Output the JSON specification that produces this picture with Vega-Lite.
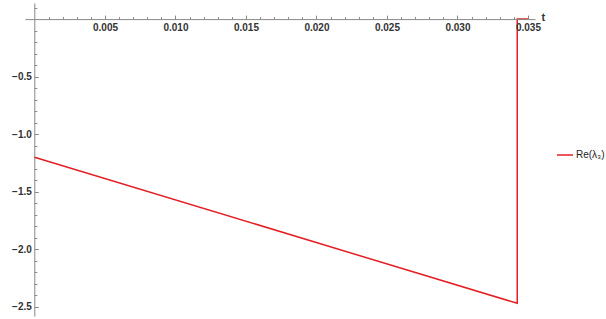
{
  "$schema": "https://vega.github.io/schema/vega-lite/v6.json",
  "width": 510,
  "height": 313,
  "autosize": {"type": "none"},
  "padding": {"left": 25, "top": 3, "right": 71, "bottom": 3},
  "background": "white",
  "config": {
    "view": {"stroke": null},
    "axis": {"labelFont": "Liberation Sans", "labelFontSize": 10, "labelFontWeight": "bold", "labelColor": "#333", "domainColor": "#888", "tickColor": "#888", "grid": false}
  },
  "data": {
    "values": [
      {"t": 0, "v": -1.2, "s": "Re(λ₃)"},
      {"t": 0.03424, "v": -2.47, "s": "Re(λ₃)"},
      {"t": 0.03424, "v": 0, "s": "Re(λ₃)"},
      {"t": 0.035, "v": 0, "s": "Re(λ₃)"}
    ]
  },
  "mark": {"type": "line", "strokeWidth": 1.5, "clip": true},
  "encoding": {
    "x": {
      "field": "t", "type": "quantitative",
      "scale": {"domain": [-0.000674, 0.0355], "nice": false, "zero": false},
      "axis": {
        "orient": "bottom", "offset": -296.9, "zindex": 1,
        "values": [0.001,0.002,0.003,0.004,0.005,0.006,0.007,0.008,0.009,0.010,0.011,0.012,0.013,0.014,0.015,0.016,0.017,0.018,0.019,0.020,0.021,0.022,0.023,0.024,0.025,0.026,0.027,0.028,0.029,0.030,0.031,0.032,0.033,0.034,0.035],
        "tickSize": {"condition": {"test": "abs(datum.value*200 - round(datum.value*200)) < 1e-6", "value": -4}, "value": -2.5},
        "labelExpr": "abs(datum.value*200 - round(datum.value*200)) < 1e-6 ? format(datum.value, '.3f') : ''",
        "labelOverlap": false, "labelFlush": false, "labelBound": false,
        "labelPadding": 7,
        "title": "t", "titleX": 516, "titleY": -2, "titleAlign": "left", "titleBaseline": "middle",
        "titleFont": "Liberation Sans", "titleFontSize": 11, "titleFontWeight": "bold", "titleColor": "#333"
      }
    },
    "y": {
      "field": "v", "type": "quantitative",
      "scale": {"domain": [-2.58, 0.14], "nice": false, "zero": false},
      "axis": {
        "orient": "left", "offset": -9.3,
        "values": [-2.5,-2.4,-2.3,-2.2,-2.1,-2.0,-1.9,-1.8,-1.7,-1.6,-1.5,-1.4,-1.3,-1.2,-1.1,-1.0,-0.9,-0.8,-0.7,-0.6,-0.5,-0.4,-0.3,-0.2,-0.1,0.1],
        "tickSize": {"condition": {"test": "abs(datum.value*2 - round(datum.value*2)) < 1e-6", "value": -4}, "value": -2.5},
        "labelExpr": "abs(datum.value*2 - round(datum.value*2)) < 1e-6 ? format(datum.value, '.1f') : ''",
        "labelOverlap": false, "labelFlush": false, "labelBound": false,
        "labelPadding": 7,
        "title": null
      }
    },
    "color": {
      "field": "s", "type": "nominal",
      "scale": {"range": ["#e41e23"]},
      "legend": {
        "title": null, "orient": "none", "legendX": 531, "legendY": 143,
        "symbolType": "stroke", "symbolSize": 256, "symbolStrokeWidth": 1.5,
        "labelFont": "Liberation Sans", "labelFontSize": 10, "labelColor": "#222", "labelOffset": 2, "labelLimit": 200
      }
    }
  }
}
